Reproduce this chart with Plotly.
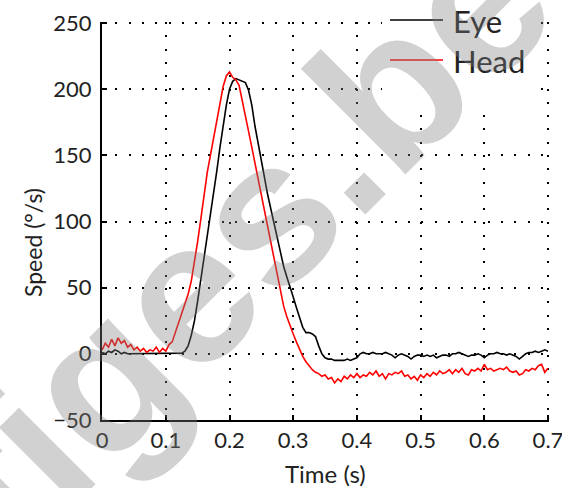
import numpy as np
import plotly.graph_objects as go

# Samples every 5 ms from 0 to 0.7 s
time_s = np.round(np.arange(0, 141) * 0.005, 3)

eye_speed = [
    1, 0, 2, 1, 3, 2, 0, 1, 0, 0,
    0, 0, 0, 0, 0, 0, 0, 0, 0, 0,
    0, 0, 0, 0, 0, 0.5, 2, 6, 14, 25,
    40, 56, 72, 88, 103, 120, 138, 156, 172, 188,
    200, 206, 208, 207, 206, 205, 199, 188, 172, 158,
    146, 133, 120, 109, 98, 86, 75, 66, 58, 51,
    43, 35, 27, 20, 16, 16, 15, 13, 6, 0,
    -3, -4, -4, -5, -5, -5, -5, -4, -5, -4,
    -3, 0, 1, 0, 0, 1, 0, 0, 0, 1,
    0, -1, -3, -1, 0, -1, -2, -4, -2, -1,
    -1, -2, -1, -2, -1, -3, -2, -1, -1, -2,
    0, 0, 1, 0, -1, -2, -1, -1, 0, -1,
    -3, -1, 0, 0, 1, 0, 0, -1, 0, -1,
    -2, -4, -2, 0, 1, 1, 2, 1, 2, 3,
    2,
]

head_speed = [
    3, 8, 5, 11, 6, 12, 8, 10, 5, 7,
    3, 5, 2, 4, 1, 3, 2, 5, 1, 4,
    2, 7, 9, 16, 24, 31, 38, 45, 55, 69,
    85, 102, 120, 137, 150, 163, 176, 190, 202, 210,
    213, 209, 207, 203, 192, 180, 168, 156, 144, 132,
    120, 108, 96, 84, 71, 58, 46, 36, 28, 21,
    15, 9, 3, -2, -6, -9, -12, -14, -15, -17,
    -16, -19, -18, -22, -19, -21, -17, -19, -16, -18,
    -15, -18, -16, -17, -14, -16, -13, -17, -15, -19,
    -15, -16, -14, -15, -13, -17, -16, -19, -17, -20,
    -16, -18, -15, -17, -14, -16, -13, -15, -14, -12,
    -15, -12, -14, -11, -15, -16, -12, -13, -11, -13,
    -8, -12, -11, -13, -12, -11, -12, -10, -13, -14,
    -13, -16, -15, -12, -13, -11, -12, -9, -8, -14,
    -11,
]

x_ticks = [0, 0.1, 0.2, 0.3, 0.4, 0.5, 0.6, 0.7]
x_tick_text = ["0", "0.1", "0.2", "0.3", "0.4", "0.5", "0.6", "0.7"]
y_ticks = [-50, 0, 50, 100, 150, 200, 250]
y_tick_text = ["\u221250", "0", "50", "100", "150", "200", "250"]

series_names = ["Eye", "Head"]
series_colors = ["#000000", "#ff0000"]

FONT = "Lato"
W, H = 562, 488
ML, MR, MT, MB = 102, 13, 22, 68
PW, PH = W - ML - MR, H - MT - MB


def px_x(px):
    return (px - ML) / PW


def px_y(py):
    return (H - MB - py) / PH


fig = go.Figure()
for name, values, color in zip(series_names, [eye_speed, head_speed], series_colors):
    fig.add_trace(go.Scatter(
        x=time_s, y=values, mode="lines", name=name,
        line=dict(color=color, width=1.6), showlegend=False,
    ))

axis_common = dict(
    showline=True, linecolor="black", linewidth=2,
    ticks="inside", ticklen=5, tickwidth=1.5, tickcolor="black",
    showgrid=True, gridcolor="black", gridwidth=2, griddash="2px,11.3px",
    zeroline=False, mirror=False, ticklabeloverflow="allow", automargin=False,
    tickfont=dict(family=FONT, size=22, color="#222222"),
)
# ranges run a hair past 0.7 and 250 so the edge grid lines stay drawn
fig.update_xaxes(range=[-0.0002, 0.7016], tickvals=x_ticks, ticktext=x_tick_text, **axis_common)
fig.update_yaxes(range=[-50.05, 250.8], tickvals=y_ticks, ticktext=y_tick_text,
                 ticklabelstandoff=4, **axis_common)

# Legend drawn by hand: white box over the grid, line samples and labels
shapes = [dict(type="rect", xref="paper", yref="paper",
               x0=px_x(382), x1=px_x(538), y0=px_y(108), y1=px_y(0),
               fillcolor="white", line=dict(width=0), layer="above")]
annotations = []
for i, (name, color) in enumerate(zip(series_names, series_colors)):
    ly = 20 + 40 * i
    shapes.append(dict(type="line", xref="paper", yref="paper",
                       x0=px_x(390), x1=px_x(443), y0=px_y(ly), y1=px_y(ly),
                       line=dict(color=color, width=1.6), layer="above"))
    annotations.append(dict(text=name, xref="paper", yref="paper",
                            x=px_x(451), y=px_y(ly + 1), xanchor="left", yanchor="middle",
                            showarrow=False, font=dict(family=FONT, size=31, color="#222222")))

annotations += [
    dict(text="Time (s)", xref="paper", yref="paper", x=px_x(325), y=px_y(473),
         xanchor="center", yanchor="middle", showarrow=False,
         font=dict(family=FONT, size=24, color="#222222")),
    dict(text="Speed (\u00b0/s)", xref="paper", yref="paper", x=px_x(33), y=px_y(243),
         xanchor="center", yanchor="middle", textangle=-90, showarrow=False,
         font=dict(family=FONT, size=23, color="#222222")),
    dict(text="<b>figes.be</b>", xref="paper", yref="paper", x=px_x(240), y=px_y(238),
         xanchor="center", yanchor="middle", textangle=-45, showarrow=False,
         font=dict(family="Liberation Sans", size=205, color="rgba(128,128,128,0.36)")),
]

fig.update_layout(
    width=W, height=H,
    margin=dict(l=ML, r=MR, t=MT, b=MB, autoexpand=False),
    paper_bgcolor="white", plot_bgcolor="white",
    shapes=shapes, annotations=annotations,
    showlegend=False,
)

fig.write_html("out.html")
